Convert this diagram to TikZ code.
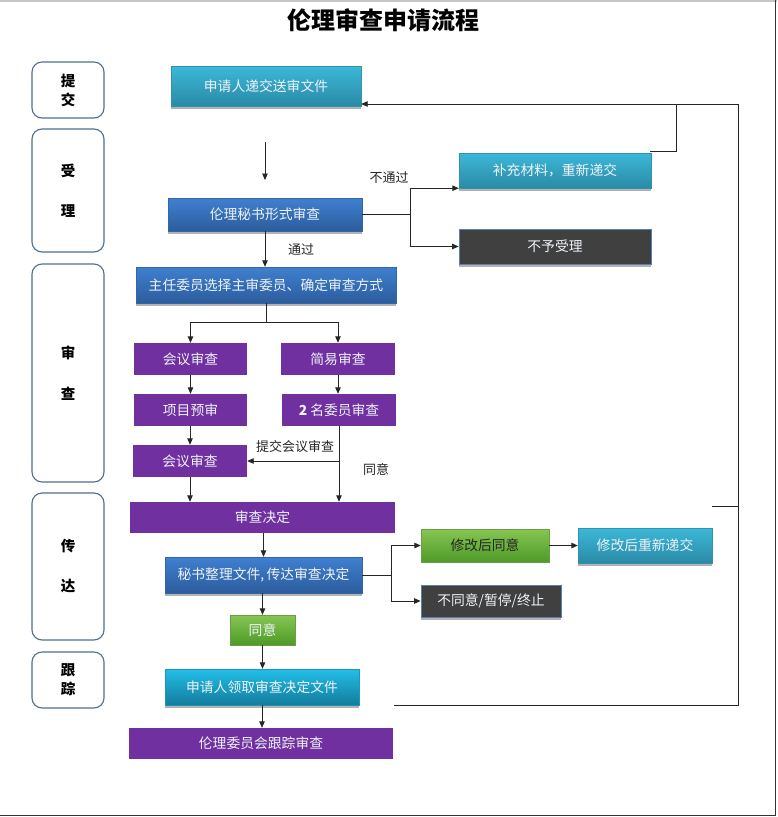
\documentclass[tikz,border=0pt]{standalone}
\usepackage{fontspec}
\setmainfont{Noto Sans CJK SC}
\usetikzlibrary{arrows.meta,shadows,calc}
\definecolor{cyanT}{HTML}{3CB8D8}
\definecolor{cyanB}{HTML}{2A8AA6}
\definecolor{cyan2T}{HTML}{22BEE8}
\definecolor{cyan2B}{HTML}{137C9C}
\definecolor{blueT}{HTML}{3F80D0}
\definecolor{blueB}{HTML}{2C5C9C}
\definecolor{purp}{HTML}{7030A0}
\definecolor{darkbox}{HTML}{404040}
\definecolor{darkedge}{HTML}{5B7FB5}
\definecolor{greenT}{HTML}{86C653}
\definecolor{greenB}{HTML}{4E9A28}
\definecolor{stageedge}{HTML}{50708F}
\definecolor{boxtext}{HTML}{EEF3F8}
\tikzset{
  base/.style={inner sep=0pt, font=\fontsize{13.8}{15}\selectfont, text=boxtext},
  bshadow/.style={drop shadow={shadow xshift=0pt, shadow yshift=-2.5pt, fill=gray!60, opacity=1}},
  cyanbox/.style={base, bshadow, top color=cyanT, bottom color=cyanB, draw=cyanT!80!black, line width=0.4pt},
  cyanbrt/.style={base, bshadow, top color=cyan2T, bottom color=cyan2B, draw=cyan2T!80!black, line width=0.4pt},
  bluebox/.style={base, bshadow, top color=blueT, bottom color=blueB, draw=blueT!80!black, line width=0.4pt},
  purpbox/.style={base, fill=purp},
  darkbx/.style={base, bshadow, fill=darkbox, draw=darkedge, line width=0.8pt},
  greenbox/.style={base, top color=greenT, bottom color=greenB, draw=greenT!80!black, line width=0.4pt},
  stage/.style={draw=stageedge, line width=1.1pt, rounded corners=10pt, fill=white, minimum width=72pt, inner sep=0pt, align=center, font=\bfseries\fontsize{14.5}{20}\selectfont},
  conn/.style={draw=black!85, line width=0.9pt},
  arr/.style={conn, -{Triangle[length=6.5pt,width=5.5pt]}},
  lbl/.style={inner sep=0pt, font=\fontsize{13}{14}\selectfont, text=black!85},
}
\begin{document}
\begin{tikzpicture}[x=1pt,y=-1pt]
\useasboundingbox (0,0) rectangle (777,817);
\fill[white] (0,0) rectangle (777,817);
% page border
\draw[gray!45, line width=2pt] (0,1) -- (777,1);
\draw[black!80, line width=1.5pt] (0,815.5) -- (775.5,815.5) -- (775.5,0);
% title
\node[inner sep=0pt, font=\bfseries\fontsize{24}{26}\selectfont] (title) at (383,20) {伦理审查申请流程};
% stages
\node[stage, minimum height=56pt] (s1) at (68,90) {提\\[-1pt]交};
\node[stage, minimum height=123pt] (s2) at (68,190.5) {受\\[20pt]理};
\node[stage, minimum height=218pt] (s3) at (68,373) {审\\[21pt]查};
\node[stage, minimum height=147pt] (s4) at (68,566.5) {传\\[20pt]达};
\node[stage, minimum height=56pt] (s5) at (68,680) {跟\\[-1pt]踪};
% boxes
\node[cyanbox, minimum width=190pt, minimum height=40pt] (app) at (266,86) {申请人递交送审文件};
\node[bluebox, minimum width=194pt, minimum height=33pt] (secr) at (265,214.5) {伦理秘书形式审查};
\node[cyanbox, minimum width=192pt, minimum height=35pt] (supp) at (555,170.5) {补充材料，重新递交};
\node[darkbx, minimum width=192pt, minimum height=35pt] (rej) at (555,246.5) {不予受理};
\node[bluebox, minimum width=260pt, minimum height=36pt] (chair) at (266,285) {主任委员选择主审委员、确定审查方式};
\node[purpbox, minimum width=113pt, minimum height=32pt] (meet1) at (190.5,359) {会议审查};
\node[purpbox, minimum width=114pt, minimum height=32pt] (simple) at (338,359) {简易审查};
\node[purpbox, minimum width=113pt, minimum height=32pt] (pre) at (190.5,410) {项目预审};
\node[purpbox, minimum width=114pt, minimum height=32pt] (two) at (339,410) {\textbf{2} 名委员审查};
\node[purpbox, minimum width=114pt, minimum height=32pt] (meet2) at (190,461) {会议审查};
\node[purpbox, minimum width=265pt, minimum height=31pt] (decide) at (262.5,517.5) {审查决定};
\node[bluebox, minimum width=197pt, minimum height=36pt] (notify) at (263.5,575) {秘书整理文件,\,传达审查决定};
\node[greenbox, minimum width=128pt, minimum height=33pt, text=black!85] (modok) at (485,545.5) {修改后同意};
\node[cyanbox, minimum width=134pt, minimum height=35pt] (resub) at (645,545.5) {修改后重新递交};
\node[darkbx, minimum width=140pt, minimum height=32pt] (deny) at (491,601) {不同意/暂停/终止};
\node[greenbox, minimum width=65pt, minimum height=30pt] (agree) at (262.5,630) {同意};
\node[cyanbrt, minimum width=194pt, minimum height=36pt] (recv) at (262,687) {申请人领取审查决定文件};
\node[purpbox, minimum width=264pt, minimum height=31pt] (track) at (261,743.5) {伦理委员会跟踪审查};
% connectors
\coordinate (a0) at (265,142);
\coordinate (a1) at (265,180);
\draw[arr] (a0) -- (a1);
\coordinate (sp1) at (410,214.5);
\draw[conn] (secr.east) -- (sp1);
\draw[arr] (sp1) |- (supp.south west);
\draw[arr] (sp1) |- (rej.west);
\node[lbl] (l1) at (389,178) {不通过};
\draw[arr] (secr.south) -- (secr.south |- chair.north);
\node[lbl] (l2) at (301,250) {通过};
\coordinate (sp2) at (266,322);
\draw[conn] (chair.south) -- (sp2);
\draw[arr] (sp2) -| (meet1.north);
\draw[arr] (sp2) -| (simple.north);
\draw[arr] (meet1.south) -- (pre.north);
\draw[arr] (simple.south) -- (simple.south |- two.north);
\draw[arr] (pre.south) -- (pre.south -| meet2.north) -- (meet2.north);
\draw[arr] (two.south) -- (two.south |- decide.north);
\draw[arr] (two.south |- meet2.east) -- (meet2.east);
\node[lbl] (l3) at (295,447) {提交会议审查};
\node[lbl] (l4) at (376,470) {同意};
\draw[arr] (meet2.south) -- (meet2.south |- decide.north);
\draw[arr] (notify.north |- decide.south) -- (notify.north);
\coordinate (sp3) at (391,575);
\draw[conn] (notify.east) -- (sp3);
\draw[arr] (sp3) |- (modok.west);
\draw[arr] (sp3) |- (deny.west);
\draw[arr] (modok.east) -- (resub.west);
\draw[arr] (notify.south -| agree.north) -- (agree.north);
\draw[arr] (agree.south) -- (agree.south |- recv.north);
\draw[arr] (recv.south) -- (recv.south |- track.north);
% feedback loop
\coordinate (fb0) at (394,705);
\coordinate (fb1) at (738,104);
\draw[arr] (fb0) -| (fb1) -- (fb1 -| app.east);
\coordinate (st0) at (650,151);
\coordinate (st1) at (676,104);
\draw[conn] (st0) -| (st1);
\coordinate (st2) at (712,506);
\draw[conn] (st2) -- (st2 -| fb1);
\end{tikzpicture}
\end{document}
